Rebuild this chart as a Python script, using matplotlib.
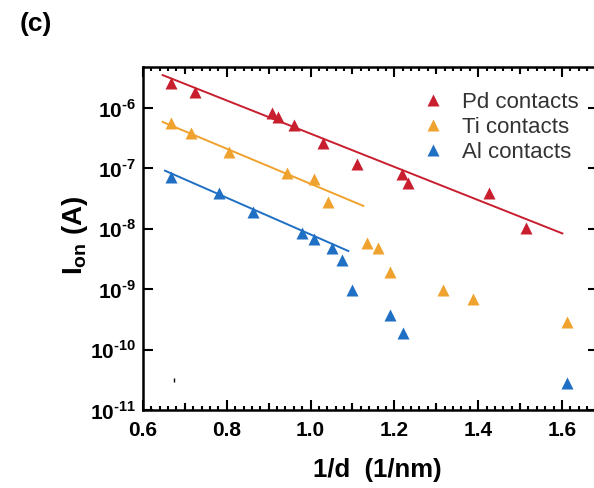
import numpy as np
import matplotlib
matplotlib.use("Agg")
import matplotlib.pyplot as plt
from matplotlib.ticker import MultipleLocator, FixedLocator, FixedFormatter, NullFormatter

plt.rcParams['font.family'] = ['Liberation Sans', 'DejaVu Sans']
plt.rcParams['mathtext.fontset'] = 'custom'
plt.rcParams['mathtext.rm'] = 'Liberation Sans:bold'
plt.rcParams['mathtext.bf'] = 'Liberation Sans:bold'

# data
pd_x = [0.666, 0.724, 0.909, 0.923, 0.960, 1.030, 1.111, 1.219, 1.233, 1.426, 1.514]
pd_y = [2.6e-6, 1.86e-6, 8.4e-7, 7.0e-7, 5.2e-7, 2.6e-7, 1.18e-7, 8.1e-8, 5.8e-8, 4.0e-8, 1.02e-8]

ti_x = [0.667, 0.715, 0.805, 0.943, 1.009, 1.042, 1.135, 1.162, 1.189, 1.315, 1.387, 1.613]
ti_y = [5.7e-7, 3.8e-7, 1.9e-7, 8.5e-8, 6.7e-8, 2.8e-8, 5.8e-9, 4.75e-9, 1.9e-9, 9.7e-10, 6.8e-10, 2.9e-10]

al_x = [0.666, 0.781, 0.863, 0.980, 1.009, 1.050, 1.074, 1.098, 1.189, 1.220, 1.611]
al_y = [7.3e-8, 3.9e-8, 1.92e-8, 8.7e-9, 6.7e-9, 4.75e-9, 3.0e-9, 9.7e-10, 3.8e-10, 1.9e-10, 2.8e-11]

# linear fits (end points)
pd_fit_x = [0.647, 1.601]
pd_fit_y = [3.52e-6, 8.4e-9]
ti_fit_x = [0.647, 1.126]
ti_fit_y = [5.9e-7, 2.4e-8]
al_fit_x = [0.6525, 1.090]
al_fit_y = [9.2e-8, 4.3e-9]

# stray mark near the bottom left
stray_x = [0.674]
stray_y = [3.1e-11]

y_ticks = [1e-11, 1e-10, 1e-9, 1e-8, 1e-7, 1e-6]
y_labels = [r'$10^{\text{-}11}$', r'$10^{\text{-}10}$', r'$10^{\text{-}9}$',
            r'$10^{\text{-}8}$', r'$10^{\text{-}7}$', r'$10^{\text{-}6}$']
mid_ticks = [0.7, 0.9, 1.1, 1.3, 1.5]

red = '#c81e2e'
orange = '#f0a22e'
blue = '#1f6fc4'

fig = plt.figure(figsize=(5.94, 4.88), dpi=100)
ax = fig.add_axes([0.2407, 0.1598, 0.766, 0.703])

ax.plot(pd_fit_x, pd_fit_y, color=red, lw=1.4)
ax.plot(ti_fit_x, ti_fit_y, color=orange, lw=1.4)
ax.plot(al_fit_x, al_fit_y, color=blue, lw=1.4)

ax.plot(pd_x, pd_y, '^', color=red, ms=8, mec='none', label='Pd contacts')
ax.plot(ti_x, ti_y, '^', color=orange, ms=8, mec='none', label='Ti contacts')
ax.plot(al_x, al_y, '^', color=blue, ms=8, mec='none', label='Al contacts')
ax.plot(stray_x, stray_y, '|', color='black', ms=3, mew=1)

ax.set_yscale('log')
ax.set_xlim(0.6, 1.686)
ax.set_ylim(1e-11, 4.8e-6)

ax.yaxis.set_major_locator(FixedLocator(y_ticks))
ax.yaxis.set_major_formatter(FixedFormatter(y_labels))
ax.yaxis.set_minor_locator(FixedLocator([]))
ax.xaxis.set_major_locator(MultipleLocator(0.2))
ax.xaxis.set_minor_locator(MultipleLocator(0.02))
ax.xaxis.set_major_formatter(plt.FuncFormatter(lambda v, p: f'{v:.1f}'))

for s in ax.spines.values():
    s.set_linewidth(1.8)
ax.tick_params(which='both', direction='in', top=True, right=True, width=1.5)
ax.tick_params(which='major', length=7)
ax.tick_params(which='minor', length=3)
ax.tick_params(axis='x', which='major', labelsize=15, pad=8)
ax.tick_params(axis='y', which='major', labelsize=15, pad=5)
for lab in ax.get_xticklabels():
    lab.set_fontweight('bold')

# medium ticks at the odd tenths, top and bottom
for side in ('bottom', 'top'):
    sec = ax.secondary_xaxis(side)
    sec.xaxis.set_major_locator(FixedLocator(mid_ticks))
    sec.xaxis.set_major_formatter(NullFormatter())
    sec.xaxis.set_minor_locator(FixedLocator([]))
    sec.tick_params(direction='in', length=5, width=1.5)
    sec.spines[side].set_visible(False)

ax.set_xlabel('1/d  (1/nm)', fontsize=18.5, fontweight='bold', labelpad=13)
ax.xaxis.label.set_x(0.515)
ax.set_ylabel(r'$\mathbf{I_{on}}$ (A)', fontsize=20, fontweight='bold', labelpad=0)
ax.yaxis.label.set_y(0.51)

ax.legend(loc='upper left', bbox_to_anchor=(0.57, 0.985), frameon=False,
          fontsize=16, handletextpad=0.8, labelspacing=0.18, handlelength=1.0,
          labelcolor='#333333')

fig.text(0.033, 0.951, '(c)', fontsize=19, fontweight='bold', ha='left', va='center')

fig.savefig('out.png', dpi=100)
